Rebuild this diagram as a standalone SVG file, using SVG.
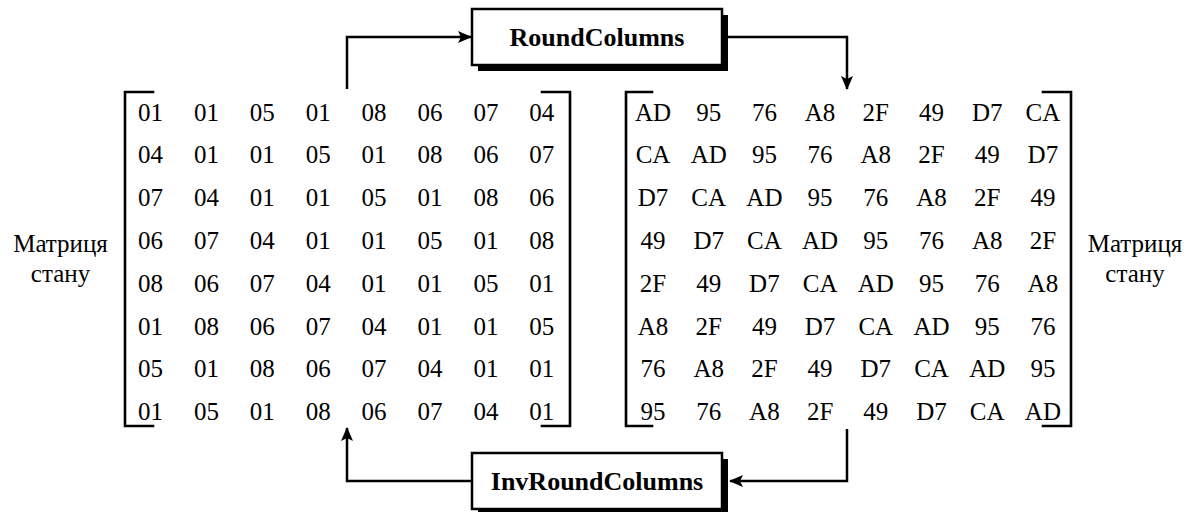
<svg xmlns="http://www.w3.org/2000/svg" width="1193" height="512" viewBox="0 0 1193 512">
  <style>
    .tx { font-family: 'Liberation Serif', 'Times New Roman', serif; fill: #000; text-anchor: middle; }
    .cell { font-size: 25px; }
    .lbl { font-size: 25px; }
    .title { font-size: 26px; font-weight: bold; }
    .br { fill: none; stroke: #000; stroke-width: 2.6; stroke-linecap: square; }
    .box { fill: #fff; stroke: #000; stroke-width: 2.5; }
    .shadow { fill: #000; }
    .wire { fill: none; stroke: #000; stroke-width: 2.5; }
  </style>
  <defs>
    <marker id="arrow" viewBox="0 0 14 12" refX="13" refY="6" markerWidth="14" markerHeight="12" markerUnits="userSpaceOnUse" orient="auto">
      <path d="M0,0 L14,6 L0,12 L3,6 Z" fill="#000"/>
    </marker>
  </defs>
  <!-- connectors -->
  <g id="connectors">
    <path class="wire" d="M347,89 L347,37 L471,37" marker-end="url(#arrow)"/>
    <path class="wire" d="M722,37 L847,37 L847,89" marker-end="url(#arrow)"/>
    <path class="wire" d="M847,429 L847,481 L730,481" marker-end="url(#arrow)"/>
    <path class="wire" d="M472,481 L347,481 L347,428" marker-end="url(#arrow)"/>
  </g>
  <!-- forward transform block -->
  <g id="round-columns">
    <rect class="shadow" x="478" y="15" width="250" height="56"/>
    <rect class="box" x="472" y="9" width="250" height="56"/>
    <text class="tx title" x="597" y="46" font-family="'Liberation Serif', serif">RoundColumns</text>
  </g>
  <!-- inverse transform block -->
  <g id="inv-round-columns">
    <rect class="shadow" x="478" y="459" width="250" height="56"/>
    <rect class="box" x="472" y="453" width="250" height="56"/>
    <text class="tx title" x="597" y="490" font-family="'Liberation Serif', serif">InvRoundColumns</text>
  </g>
  <!-- state matrix, left -->
  <g id="matrix-left">
    <path class="br" d="M153,92 L125,92 L125,426 L153,426"/>
    <path class="br" d="M542,92 L570,92 L570,426 L542,426"/>
    <text class="tx cell" y="120.5" font-family="'Liberation Serif', serif"><tspan x="150.5">01</tspan><tspan x="206.4">01</tspan><tspan x="262.3">05</tspan><tspan x="318.2">01</tspan><tspan x="374.1">08</tspan><tspan x="430">06</tspan><tspan x="485.9">07</tspan><tspan x="541.8">04</tspan></text>
    <text class="tx cell" y="163.3" font-family="'Liberation Serif', serif"><tspan x="150.5">04</tspan><tspan x="206.4">01</tspan><tspan x="262.3">01</tspan><tspan x="318.2">05</tspan><tspan x="374.1">01</tspan><tspan x="430">08</tspan><tspan x="485.9">06</tspan><tspan x="541.8">07</tspan></text>
    <text class="tx cell" y="206.1" font-family="'Liberation Serif', serif"><tspan x="150.5">07</tspan><tspan x="206.4">04</tspan><tspan x="262.3">01</tspan><tspan x="318.2">01</tspan><tspan x="374.1">05</tspan><tspan x="430">01</tspan><tspan x="485.9">08</tspan><tspan x="541.8">06</tspan></text>
    <text class="tx cell" y="248.9" font-family="'Liberation Serif', serif"><tspan x="150.5">06</tspan><tspan x="206.4">07</tspan><tspan x="262.3">04</tspan><tspan x="318.2">01</tspan><tspan x="374.1">01</tspan><tspan x="430">05</tspan><tspan x="485.9">01</tspan><tspan x="541.8">08</tspan></text>
    <text class="tx cell" y="291.7" font-family="'Liberation Serif', serif"><tspan x="150.5">08</tspan><tspan x="206.4">06</tspan><tspan x="262.3">07</tspan><tspan x="318.2">04</tspan><tspan x="374.1">01</tspan><tspan x="430">01</tspan><tspan x="485.9">05</tspan><tspan x="541.8">01</tspan></text>
    <text class="tx cell" y="334.5" font-family="'Liberation Serif', serif"><tspan x="150.5">01</tspan><tspan x="206.4">08</tspan><tspan x="262.3">06</tspan><tspan x="318.2">07</tspan><tspan x="374.1">04</tspan><tspan x="430">01</tspan><tspan x="485.9">01</tspan><tspan x="541.8">05</tspan></text>
    <text class="tx cell" y="377.3" font-family="'Liberation Serif', serif"><tspan x="150.5">05</tspan><tspan x="206.4">01</tspan><tspan x="262.3">08</tspan><tspan x="318.2">06</tspan><tspan x="374.1">07</tspan><tspan x="430">04</tspan><tspan x="485.9">01</tspan><tspan x="541.8">01</tspan></text>
    <text class="tx cell" y="420.1" font-family="'Liberation Serif', serif"><tspan x="150.5">01</tspan><tspan x="206.4">05</tspan><tspan x="262.3">01</tspan><tspan x="318.2">08</tspan><tspan x="374.1">06</tspan><tspan x="430">07</tspan><tspan x="485.9">04</tspan><tspan x="541.8">01</tspan></text>
  </g>
  <!-- state matrix, right -->
  <g id="matrix-right">
    <path class="br" d="M652,92 L626,92 L626,426 L652,426"/>
    <path class="br" d="M1043,92 L1071,92 L1071,426 L1043,426"/>
    <text class="tx cell" y="120.5" font-family="'Liberation Serif', serif"><tspan x="653">AD</tspan><tspan x="708.7">95</tspan><tspan x="764.4">76</tspan><tspan x="820.1">A8</tspan><tspan x="875.8">2F</tspan><tspan x="931.5">49</tspan><tspan x="987.2">D7</tspan><tspan x="1042.9">CA</tspan></text>
    <text class="tx cell" y="163.3" font-family="'Liberation Serif', serif"><tspan x="653">CA</tspan><tspan x="708.7">AD</tspan><tspan x="764.4">95</tspan><tspan x="820.1">76</tspan><tspan x="875.8">A8</tspan><tspan x="931.5">2F</tspan><tspan x="987.2">49</tspan><tspan x="1042.9">D7</tspan></text>
    <text class="tx cell" y="206.1" font-family="'Liberation Serif', serif"><tspan x="653">D7</tspan><tspan x="708.7">CA</tspan><tspan x="764.4">AD</tspan><tspan x="820.1">95</tspan><tspan x="875.8">76</tspan><tspan x="931.5">A8</tspan><tspan x="987.2">2F</tspan><tspan x="1042.9">49</tspan></text>
    <text class="tx cell" y="248.9" font-family="'Liberation Serif', serif"><tspan x="653">49</tspan><tspan x="708.7">D7</tspan><tspan x="764.4">CA</tspan><tspan x="820.1">AD</tspan><tspan x="875.8">95</tspan><tspan x="931.5">76</tspan><tspan x="987.2">A8</tspan><tspan x="1042.9">2F</tspan></text>
    <text class="tx cell" y="291.7" font-family="'Liberation Serif', serif"><tspan x="653">2F</tspan><tspan x="708.7">49</tspan><tspan x="764.4">D7</tspan><tspan x="820.1">CA</tspan><tspan x="875.8">AD</tspan><tspan x="931.5">95</tspan><tspan x="987.2">76</tspan><tspan x="1042.9">A8</tspan></text>
    <text class="tx cell" y="334.5" font-family="'Liberation Serif', serif"><tspan x="653">A8</tspan><tspan x="708.7">2F</tspan><tspan x="764.4">49</tspan><tspan x="820.1">D7</tspan><tspan x="875.8">CA</tspan><tspan x="931.5">AD</tspan><tspan x="987.2">95</tspan><tspan x="1042.9">76</tspan></text>
    <text class="tx cell" y="377.3" font-family="'Liberation Serif', serif"><tspan x="653">76</tspan><tspan x="708.7">A8</tspan><tspan x="764.4">2F</tspan><tspan x="820.1">49</tspan><tspan x="875.8">D7</tspan><tspan x="931.5">CA</tspan><tspan x="987.2">AD</tspan><tspan x="1042.9">95</tspan></text>
    <text class="tx cell" y="420.1" font-family="'Liberation Serif', serif"><tspan x="653">95</tspan><tspan x="708.7">76</tspan><tspan x="764.4">A8</tspan><tspan x="820.1">2F</tspan><tspan x="875.8">49</tspan><tspan x="931.5">D7</tspan><tspan x="987.2">CA</tspan><tspan x="1042.9">AD</tspan></text>
  </g>
  <!-- side captions -->
  <g id="label-left">
    <text class="tx lbl" x="60.5" y="252" font-family="'Liberation Serif', serif">Матриця</text>
    <text class="tx lbl" x="60.5" y="282" font-family="'Liberation Serif', serif">стану</text>
  </g>
  <g id="label-right">
    <text class="tx lbl" x="1135" y="252" font-family="'Liberation Serif', serif">Матриця</text>
    <text class="tx lbl" x="1135" y="282" font-family="'Liberation Serif', serif">стану</text>
  </g>
</svg>
